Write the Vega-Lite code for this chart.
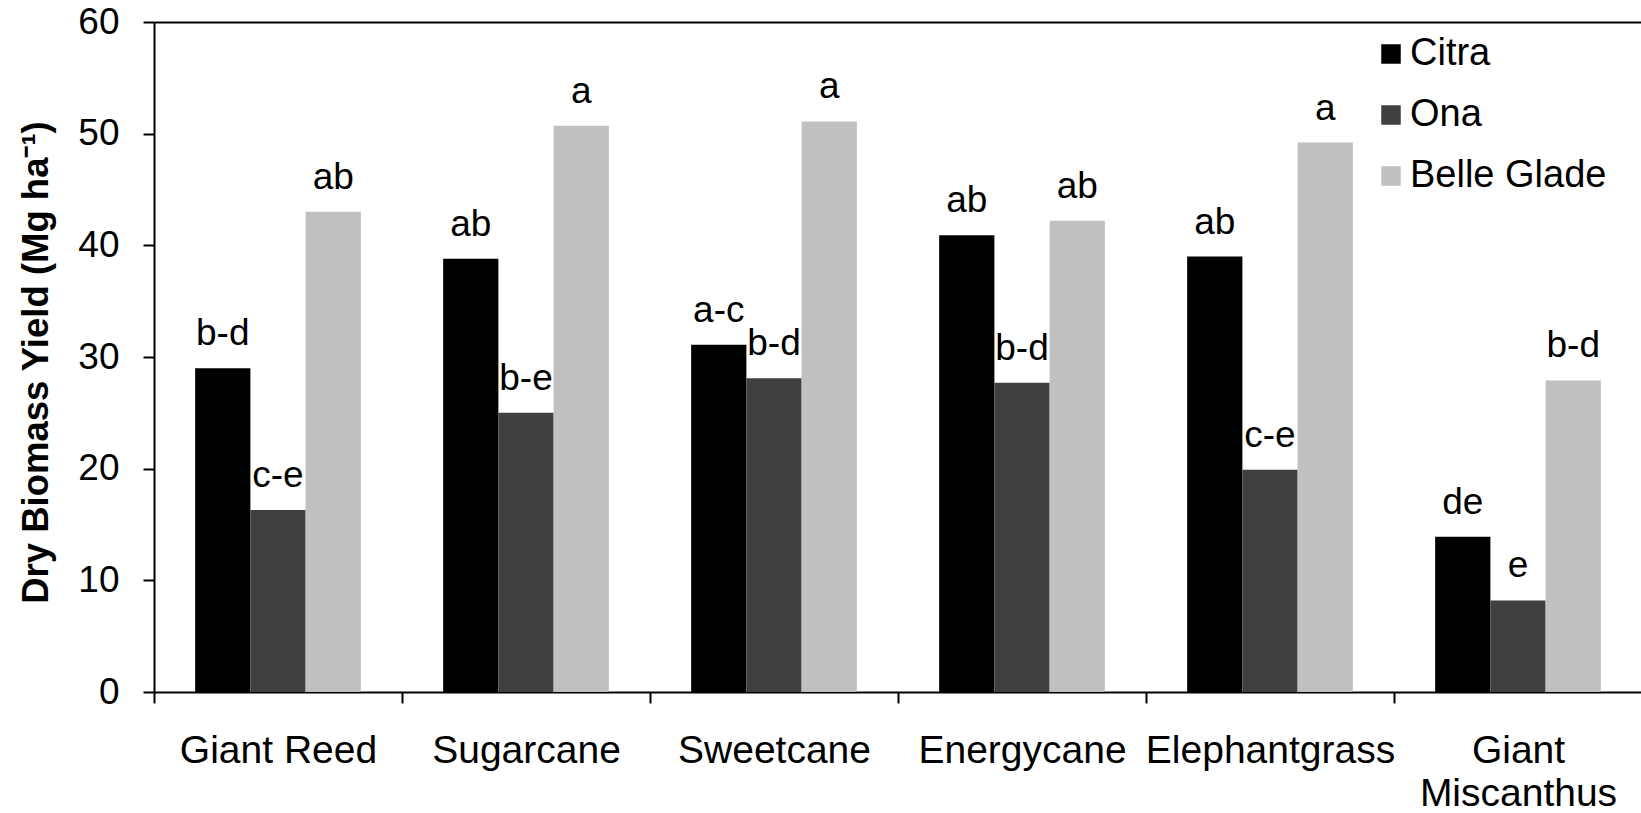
{
  "$schema": "https://vega.github.io/schema/vega-lite/v6.json",
  "width": 1488,
  "height": 670,
  "autosize": {"type": "none"},
  "padding": {"left": 154, "top": 22, "right": 0, "bottom": 121},
  "background": "white",
  "config": {"font": "Liberation Sans", "view": {"stroke": null}},
  "data": {"values": [
    {"crop": "Giant Reed", "site": "Citra", "yield": 29.0, "letter": "b-d"},
    {"crop": "Giant Reed", "site": "Ona", "yield": 16.3, "letter": "c-e"},
    {"crop": "Giant Reed", "site": "Belle Glade", "yield": 43.0, "letter": "ab"},
    {"crop": "Sugarcane", "site": "Citra", "yield": 38.8, "letter": "ab"},
    {"crop": "Sugarcane", "site": "Ona", "yield": 25.0, "letter": "b-e"},
    {"crop": "Sugarcane", "site": "Belle Glade", "yield": 50.7, "letter": "a"},
    {"crop": "Sweetcane", "site": "Citra", "yield": 31.1, "letter": "a-c"},
    {"crop": "Sweetcane", "site": "Ona", "yield": 28.1, "letter": "b-d"},
    {"crop": "Sweetcane", "site": "Belle Glade", "yield": 51.1, "letter": "a"},
    {"crop": "Energycane", "site": "Citra", "yield": 40.9, "letter": "ab"},
    {"crop": "Energycane", "site": "Ona", "yield": 27.7, "letter": "b-d"},
    {"crop": "Energycane", "site": "Belle Glade", "yield": 42.2, "letter": "ab"},
    {"crop": "Elephantgrass", "site": "Citra", "yield": 39.0, "letter": "ab"},
    {"crop": "Elephantgrass", "site": "Ona", "yield": 19.9, "letter": "c-e"},
    {"crop": "Elephantgrass", "site": "Belle Glade", "yield": 49.2, "letter": "a"},
    {"crop": "Giant Miscanthus", "site": "Citra", "yield": 13.9, "letter": "de"},
    {"crop": "Giant Miscanthus", "site": "Ona", "yield": 8.2, "letter": "e"},
    {"crop": "Giant Miscanthus", "site": "Belle Glade", "yield": 27.9, "letter": "b-d"}
  ]},
  "encoding": {
    "x": {
      "field": "crop", "type": "nominal",
      "sort": ["Giant Reed", "Sugarcane", "Sweetcane", "Energycane", "Elephantgrass", "Giant Miscanthus"],
      "scale": {"paddingInner": 0, "paddingOuter": 0},
      "axis": {
        "title": null, "tickBand": "extent", "labelAngle": 0, "labelFontSize": 39,
        "labelPadding": 28, "tickSize": 11, "tickWidth": 2, "tickColor": "black",
        "domainColor": "black", "domainWidth": 2, "labelColor": "black",
        "labelBaseline": "top", "labelLineHeight": 43, "labelLimit": 0,
        "labelExpr": "datum.label == 'Giant Miscanthus' ? ['Giant', 'Miscanthus'] : datum.label"
      }
    },
    "xOffset": {
      "field": "site", "type": "nominal",
      "sort": ["Citra", "Ona", "Belle Glade"],
      "scale": {"paddingInner": 0, "paddingOuter": 0.745}
    },
    "y": {
      "field": "yield", "type": "quantitative",
      "scale": {"domain": [0, 60], "nice": false},
      "axis": {
        "title": "Dry Biomass Yield (Mg ha⁻¹)", "titleFontSize": 36.5, "titleFontWeight": "bold",
        "titleColor": "black", "titleX": -118, "titleY": 340, "titleAngle": 270,
        "titleAlign": "center", "titleBaseline": "middle",
        "values": [0, 10, 20, 30, 40, 50, 60],
        "tickSize": 11, "tickWidth": 2, "tickColor": "black",
        "labelFontSize": 37, "labelPadding": 24, "labelColor": "black",
        "domainColor": "black", "domainWidth": 2,
        "grid": true, "gridColor": "black", "gridWidth": 2,
        "gridOpacity": {"condition": {"test": "datum.value === 60", "value": 1}, "value": 0}
      }
    }
  },
  "layer": [
    {
      "mark": {"type": "bar"},
      "encoding": {
        "color": {
          "field": "site", "type": "nominal",
          "scale": {"domain": ["Citra", "Ona", "Belle Glade"], "range": ["#000000", "#404040", "#c0c0c0"]},
          "legend": {
            "title": null, "orient": "none", "legendX": 1218, "legendY": 13,
            "symbolType": "square", "symbolSize": 380, "symbolStrokeWidth": 0,
            "labelFontSize": 38, "labelColor": "black", "labelOffset": 0, "labelLimit": 0,
            "rowPadding": 23, "padding": 0, "symbolOpacity": 1
          }
        }
      }
    },
    {
      "mark": {"type": "text", "baseline": "alphabetic", "dy": -23, "fontSize": 37, "color": "black"},
      "encoding": {"text": {"field": "letter"}}
    }
  ]
}
